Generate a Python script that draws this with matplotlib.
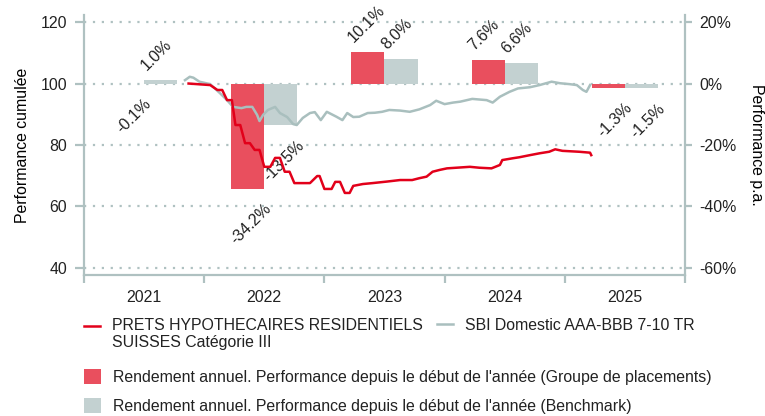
import matplotlib
matplotlib.use("Agg")
import matplotlib.pyplot as plt
import numpy as np
from matplotlib.legend_handler import HandlerLine2D
from matplotlib.ticker import FixedLocator, FuncFormatter, NullFormatter

# Annual returns per year (%)
years = [2021, 2022, 2023, 2024, 2025]
fund_annual = [-0.1, -34.2, 10.1, 7.6, -1.3]
bench_annual = [1.0, -13.5, 8.0, 6.6, -1.5]

# Cumulative performance (base 100), x in decimal years
fund_dates = [2021.87, 2022.05, 2022.11, 2022.15, 2022.19, 2022.23, 2022.26, 2022.30, 2022.34,
              2022.38, 2022.42, 2022.46, 2022.50, 2022.55, 2022.59, 2022.63, 2022.67, 2022.71,
              2022.75, 2022.88, 2022.94, 2022.96, 2023.00, 2023.06, 2023.09, 2023.13, 2023.17,
              2023.21, 2023.24, 2023.32, 2023.40, 2023.52, 2023.63, 2023.73, 2023.79, 2023.85,
              2023.90, 2023.96, 2024.02, 2024.21, 2024.29, 2024.39, 2024.46, 2024.48, 2024.57,
              2024.62, 2024.71, 2024.79, 2024.87, 2024.92, 2024.98, 2025.12, 2025.21, 2025.22]
fund_values = [100.0, 99.5, 97.9, 97.9, 94.6, 94.6, 86.5, 86.5, 80.6,
               80.6, 78.4, 78.4, 72.9, 72.9, 75.8, 75.8, 71.3, 71.3,
               67.6, 67.6, 69.9, 69.9, 65.7, 65.7, 68.0, 68.0, 64.4,
               64.4, 66.7, 67.3, 67.6, 68.1, 68.6, 68.6, 69.2, 69.7,
               71.3, 71.9, 72.4, 72.9, 72.6, 72.4, 73.5, 75.1, 75.7,
               76.0, 76.7, 77.3, 77.8, 78.6, 78.1, 77.8, 77.5, 76.7]

bench_dates = [2021.84, 2021.88, 2021.91, 2021.96, 2022.05, 2022.13, 2022.19, 2022.24, 2022.31,
               2022.35, 2022.40, 2022.44, 2022.46, 2022.49, 2022.53, 2022.59, 2022.63, 2022.69,
               2022.74, 2022.77, 2022.82, 2022.88, 2022.92, 2022.97, 2023.02, 2023.10, 2023.15,
               2023.19, 2023.24, 2023.29, 2023.36, 2023.42, 2023.48, 2023.54, 2023.63, 2023.71,
               2023.79, 2023.88, 2023.93, 2024.00, 2024.07, 2024.13, 2024.23, 2024.35, 2024.40,
               2024.46, 2024.54, 2024.61, 2024.71, 2024.79, 2024.89, 2024.96, 2025.04, 2025.10,
               2025.15, 2025.18, 2025.21]
bench_values = [101.1, 102.2, 101.9, 100.6, 99.8, 96.9, 94.6, 92.4, 92.0,
                92.4, 92.4, 89.8, 87.8, 89.8, 91.4, 92.4, 90.4, 89.1,
                86.8, 86.5, 88.8, 90.4, 90.7, 88.1, 90.8, 89.2, 88.1,
                90.4, 89.1, 89.2, 90.4, 90.5, 90.8, 91.4, 91.2, 90.8,
                91.6, 93.0, 94.4, 93.3, 93.8, 94.1, 95.0, 94.6, 93.8,
                95.7, 97.3, 98.4, 98.8, 99.5, 100.6, 100.1, 99.8, 99.5,
                97.9, 97.3, 99.5]

cum_ticks = [40, 60, 80, 100, 120]
pct_ticks = [-60, -40, -20, 0, 20]

fund_label = "PRETS HYPOTHECAIRES RESIDENTIELS\nSUISSES Catégorie III"
bench_label = "SBI Domestic AAA-BBB 7-10 TR"
fund_bar_label = "Rendement annuel. Performance depuis le début de l'année (Groupe de placements)"
bench_bar_label = "Rendement annuel. Performance depuis le début de l'année (Benchmark)"

RED_LINE = "#e2001a"
RED_BAR = "#e94f5e"
GREY_LINE = "#a9bfbe"
GREY_BAR = "#c3d1d1"
AXIS_COLOR = "#afc1c1"
TEXT_COLOR = "#222222"
FONT_SIZE = 11.4

plt.rcParams['font.family'] = ['Liberation Sans', 'DejaVu Sans']
plt.rcParams['font.size'] = FONT_SIZE
plt.rcParams['text.color'] = TEXT_COLOR


class FirstLineHandler(HandlerLine2D):
    """Line handle aligned with the first line of a two-line label"""
    def create_artists(self, legend, orig_handle, xdescent, ydescent, width, height, fontsize, trans):
        artists = super().create_artists(legend, orig_handle, xdescent, ydescent,
                                         width, height, fontsize, trans)
        for a in artists:
            a.set_ydata(np.asarray(a.get_ydata()) + 0.55 * fontsize)
        return artists


def draw_bars(ax):
    """Annual returns as paired bars with rotated value labels"""
    bar_w = 0.275
    x_fund = [y + 0.5 - bar_w / 2 for y in years]
    x_bench = [y + 0.5 + bar_w / 2 for y in years]
    bars_f = ax.bar(x_fund, fund_annual, width=bar_w, color=RED_BAR, zorder=2, label=fund_bar_label)
    bars_b = ax.bar(x_bench, bench_annual, width=bar_w, color=GREY_BAR, zorder=2, label=bench_bar_label)

    for x, v in zip(x_fund + x_bench, fund_annual + bench_annual):
        if v >= 0:
            ax.annotate(f"{v:.1f}%", xy=(x, v), xytext=(-10, 6.5), textcoords='offset points',
                        rotation=45, rotation_mode='anchor', ha='left', va='baseline')
        else:
            ax.annotate(f"{v:.1f}%", xy=(x, v), xytext=(11.5, -9), textcoords='offset points',
                        rotation=45, rotation_mode='anchor', ha='right', va='top')
    return bars_f, bars_b


def style_axes(ax_pct, ax_cum):
    """Spines, ticks, grid and axis labels"""
    ax_pct.set_xlim(2021, 2026)
    ax_pct.set_ylim(-62.3, 22.3)
    ax_cum.set_ylim(37.7, 122.3)

    for side in ['left', 'right', 'bottom']:
        ax_pct.spines[side].set_color(AXIS_COLOR)
        ax_pct.spines[side].set_linewidth(1.6)
    ax_pct.spines['top'].set_visible(False)
    for side in ax_cum.spines:
        ax_cum.spines[side].set_visible(False)

    # percent axis on the right, cumulative axis on the left
    ax_pct.yaxis.tick_right()
    ax_pct.yaxis.set_label_position('right')
    ax_cum.yaxis.tick_left()
    ax_cum.yaxis.set_label_position('left')

    ax_pct.set_yticks(pct_ticks)
    ax_pct.yaxis.set_major_formatter(FuncFormatter(lambda v, _: f"{v:.0f}%"))
    ax_cum.set_yticks(cum_ticks)
    ax_pct.tick_params(axis='y', direction='out', length=5, width=1.6, color=AXIS_COLOR,
                       pad=5, labelsize=FONT_SIZE, labelcolor=TEXT_COLOR)
    ax_cum.tick_params(axis='y', direction='out', length=6.5, width=1.6, color=AXIS_COLOR,
                       pad=5.5, labelsize=FONT_SIZE, labelcolor=TEXT_COLOR)

    # year boundaries as ticks, year names centred in between
    ax_pct.xaxis.set_major_locator(FixedLocator(years + [years[-1] + 1]))
    ax_pct.xaxis.set_major_formatter(NullFormatter())
    ax_pct.xaxis.set_minor_locator(FixedLocator([y + 0.5 for y in years]))
    ax_pct.xaxis.set_minor_formatter(FuncFormatter(lambda v, _: f"{int(v)}"))
    ax_pct.tick_params(axis='x', which='major', direction='out', length=6, width=1.6, color=AXIS_COLOR)
    ax_pct.tick_params(axis='x', which='minor', length=0, pad=11, labelsize=FONT_SIZE,
                       labelcolor=TEXT_COLOR)

    ax_pct.grid(axis='y', color=AXIS_COLOR, linestyle=(0, (1, 3)), linewidth=1.6)
    ax_pct.set_axisbelow(True)

    ax_cum.set_ylabel("Performance cumulée", fontsize=FONT_SIZE, labelpad=8)
    ax_pct.set_ylabel("Performance p.a.", fontsize=FONT_SIZE, rotation=270, va='bottom', labelpad=9)


def main():
    fig = plt.figure(figsize=(7.65, 4.16), dpi=100)
    ax_pct = fig.add_axes([84 / 765, 1 - 275 / 416, (685 - 84) / 765, (275 - 15) / 416])
    ax_cum = ax_pct.twinx()

    bars_f, bars_b = draw_bars(ax_pct)

    line_b, = ax_cum.plot(bench_dates, bench_values, color=GREY_LINE, lw=1.8, label=bench_label)
    line_f, = ax_cum.plot(fund_dates, fund_values, color=RED_LINE, lw=1.8, label=fund_label)

    style_axes(ax_pct, ax_cum)

    # legends below the chart
    common = dict(loc='upper left', frameon=False, borderpad=0, borderaxespad=0,
                  handletextpad=0.75, fontsize=FONT_SIZE)
    fig.legend(handles=[line_f], bbox_to_anchor=(84 / 765, 1 - 318 / 416), handlelength=1.0,
               handler_map={line_f: FirstLineHandler()}, **common)
    fig.legend(handles=[line_b], bbox_to_anchor=(437 / 765, 1 - 318 / 416), handlelength=1.0,
               **common)
    fig.legend(handles=[bars_f, bars_b], bbox_to_anchor=(84 / 765, 1 - 369 / 416),
               handlelength=1.1, handleheight=1.1, labelspacing=0.8, **common)

    fig.savefig("out.png", dpi=100)


if __name__ == '__main__':
    main()
